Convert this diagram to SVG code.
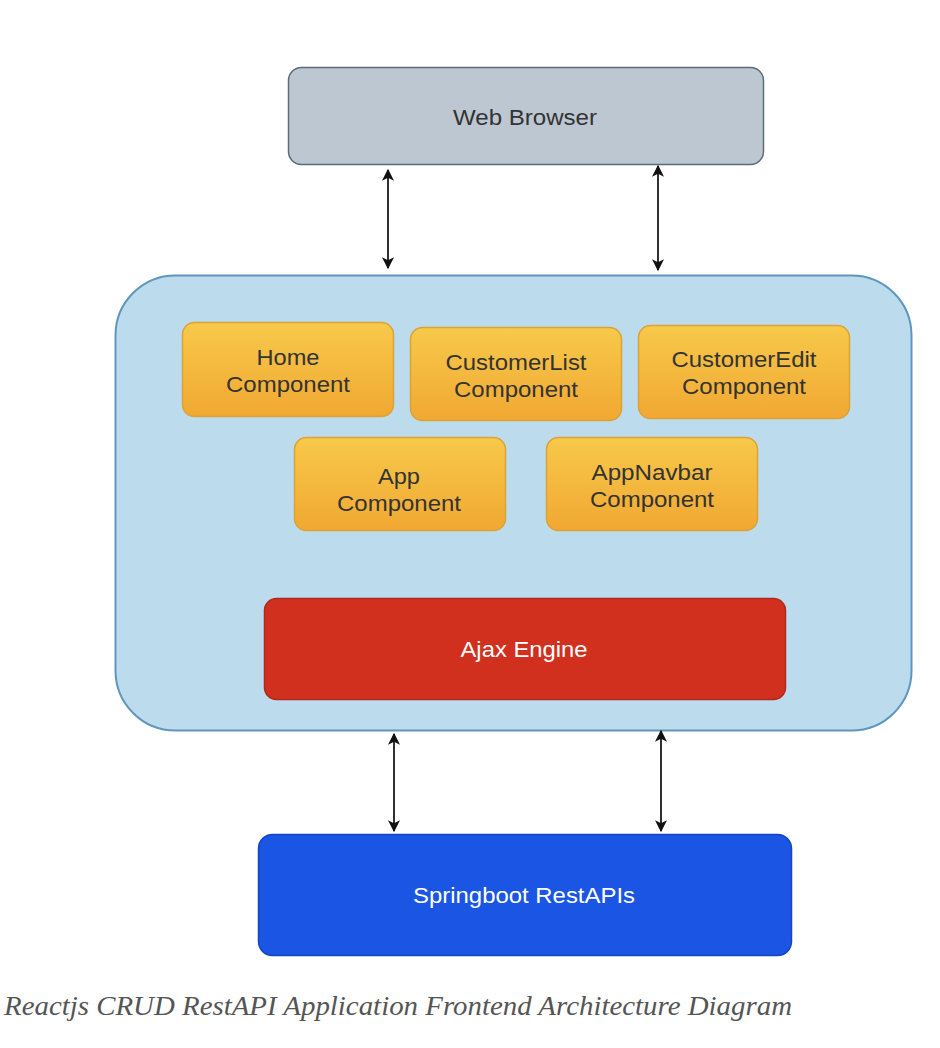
<svg xmlns="http://www.w3.org/2000/svg" width="940" height="1048" viewBox="0 0 940 1048">
<style>
.lbl{font-family:"Liberation Sans",Arial,sans-serif;font-size:22px;text-anchor:middle;fill:#333333}
.wt{fill:#ffffff}
.comp rect{fill:url(#yg);stroke:#dba236;stroke-width:1.5}
.conn line{stroke:#1a1a1a;stroke-width:1.8;marker-start:url(#ah);marker-end:url(#ah)}
</style>
<defs>
<linearGradient id="yg" x1="0" y1="0" x2="0" y2="1">
<stop offset="0" stop-color="#f7c94b"/>
<stop offset="1" stop-color="#f1a832"/>
</linearGradient>
<marker id="ah" viewBox="0 0 10 10" refX="9" refY="5" markerWidth="12" markerHeight="12" markerUnits="userSpaceOnUse" orient="auto-start-reverse">
<path d="M0,0 L10,5 L0,10 L2.5,5 z" fill="#111111"/>
</marker>
</defs>
<rect width="940" height="1048" fill="#ffffff"/>
<g id="web-browser">
<rect x="288.5" y="67.5" width="475" height="97" rx="13" fill="#bdc7d2" stroke="#5b6b7b" stroke-width="1.5"/>
<text class="lbl" x="525" y="125" textLength="144" lengthAdjust="spacingAndGlyphs">Web Browser</text>
</g>
<g id="frontend">
<rect x="115.5" y="275.5" width="796" height="455" rx="60" fill="#bcdcee" stroke="#5e96be" stroke-width="2"/>
</g>
<g id="home" class="comp">
<rect x="182.5" y="322.5" width="211" height="94" rx="12"/>
<text class="lbl" x="288" y="365" textLength="63" lengthAdjust="spacingAndGlyphs">Home</text>
<text class="lbl" x="288" y="392" textLength="124" lengthAdjust="spacingAndGlyphs">Component</text>
</g>
<g id="customerlist" class="comp">
<rect x="410.5" y="327.5" width="211" height="93" rx="12"/>
<text class="lbl" x="516" y="370" textLength="141" lengthAdjust="spacingAndGlyphs">CustomerList</text>
<text class="lbl" x="516" y="397" textLength="124" lengthAdjust="spacingAndGlyphs">Component</text>
</g>
<g id="customeredit" class="comp">
<rect x="638.5" y="325.5" width="211" height="93" rx="12"/>
<text class="lbl" x="744" y="367" textLength="145" lengthAdjust="spacingAndGlyphs">CustomerEdit</text>
<text class="lbl" x="744" y="394" textLength="124" lengthAdjust="spacingAndGlyphs">Component</text>
</g>
<g id="app" class="comp">
<rect x="294.5" y="437.5" width="211" height="93" rx="12"/>
<text class="lbl" x="399" y="484" textLength="42" lengthAdjust="spacingAndGlyphs">App</text>
<text class="lbl" x="399" y="511" textLength="124" lengthAdjust="spacingAndGlyphs">Component</text>
</g>
<g id="appnavbar" class="comp">
<rect x="546.5" y="437.5" width="211" height="93" rx="12"/>
<text class="lbl" x="652" y="480" textLength="121" lengthAdjust="spacingAndGlyphs">AppNavbar</text>
<text class="lbl" x="652" y="507" textLength="124" lengthAdjust="spacingAndGlyphs">Component</text>
</g>
<g id="ajax">
<rect x="264.5" y="598.5" width="521" height="101" rx="12" fill="#d2301f" stroke="#b0281a" stroke-width="1.5"/>
<text class="lbl wt" x="524" y="657" textLength="127" lengthAdjust="spacingAndGlyphs">Ajax Engine</text>
</g>
<g id="springboot">
<rect x="258.5" y="834.5" width="533" height="121" rx="14" fill="#1a55e3" stroke="#1446c2" stroke-width="1.5"/>
<text class="lbl wt" x="524" y="903" textLength="222" lengthAdjust="spacingAndGlyphs">Springboot RestAPIs</text>
</g>
<g id="connectors" class="conn">
<line x1="388" y1="170" x2="388" y2="268"/>
<line x1="658" y1="166" x2="658" y2="270"/>
<line x1="394" y1="734" x2="394" y2="831"/>
<line x1="661" y1="731" x2="661" y2="831"/>
</g>
<text x="4" y="1015" font-family="Liberation Serif,'Times New Roman',serif" font-style="italic" font-size="28" fill="#555555" textLength="788" lengthAdjust="spacingAndGlyphs">Reactjs CRUD RestAPI Application Frontend Architecture Diagram</text>
</svg>
